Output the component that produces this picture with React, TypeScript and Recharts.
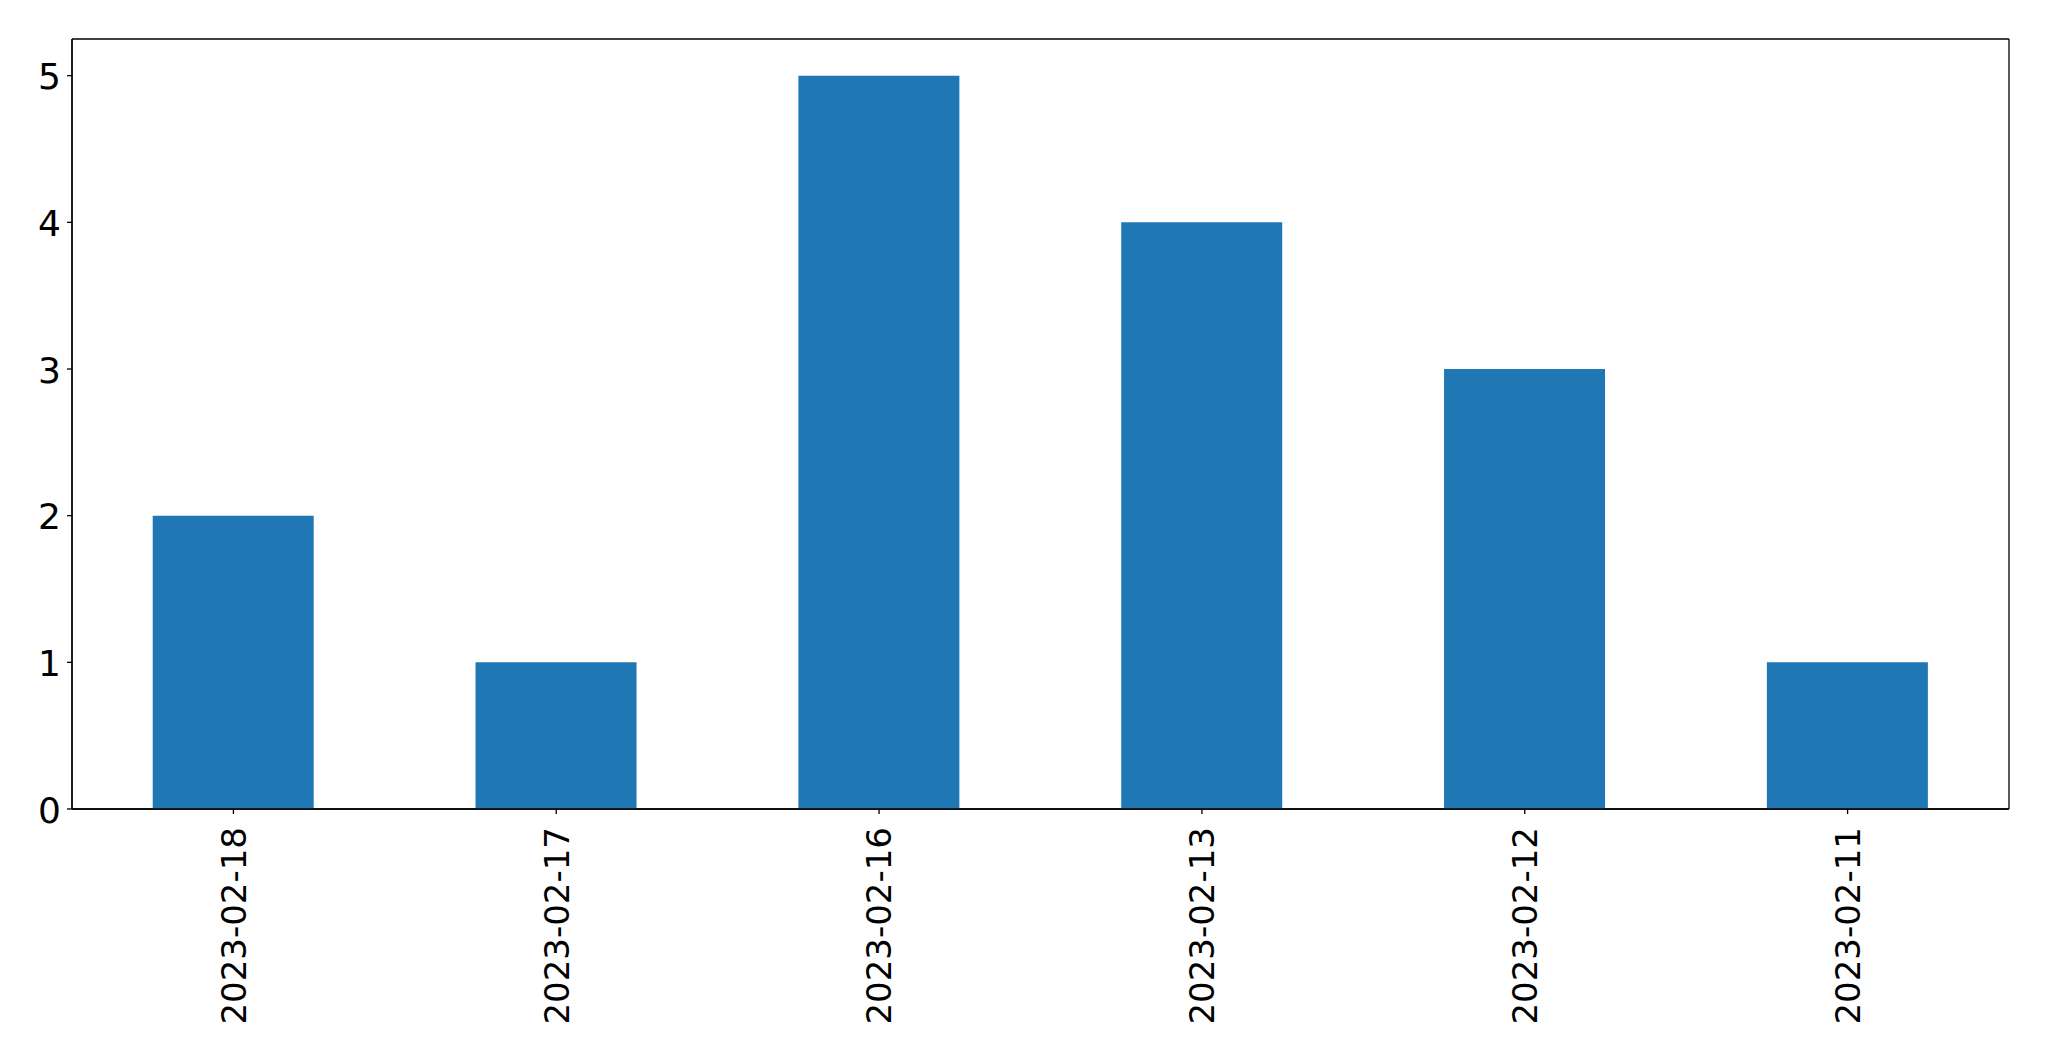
import React from "react";
import { BarChart, Bar, XAxis, YAxis, CartesianGrid } from "recharts";

const categories = ["2023-02-18", "2023-02-17", "2023-02-16", "2023-02-13", "2023-02-12", "2023-02-11"];
const counts = [2, 1, 5, 4, 3, 1];
const yTicks = [0, 1, 2, 3, 4, 5];

const data = categories.map((c, i) => ({ date: c, count: counts[i] }));

const FONT = "'DejaVu Sans', sans-serif";

const XTick = (props: any) => {
  const { x, y, payload } = props;
  return (
    <text
      x={0}
      y={0}
      transform={`translate(${x},${y + 11}) rotate(-90)`}
      textAnchor="end"
      dy="0.36em"
      fontFamily={FONT}
      fontSize={34}
      fill="#000"
    >
      {payload.value}
    </text>
  );
};

const YTick = (props: any) => {
  const { x, y, payload } = props;
  return (
    <text x={x} y={y} textAnchor="end" dy="0.38em" fontFamily={FONT} fontSize={36} fill="#000">
      {payload.value}
    </text>
  );
};

const frameH = (p: any) => {
  const o = p.offset;
  return [o.top, o.top + o.height];
};
const frameV = (p: any) => {
  const o = p.offset;
  return [o.left, o.left + o.width];
};

export default function App() {
  return (
    <div style={{ position: "absolute", left: 0, top: 0, background: "#fff" }}>
      <BarChart
        width={2049}
        height={1061}
        data={data}
        margin={{ top: 39, right: 40, left: 0, bottom: 0 }}
        barCategoryGap="25%"
      >
        <CartesianGrid
          stroke="#000"
          strokeWidth={1.3}
          horizontalCoordinatesGenerator={frameH}
          verticalCoordinatesGenerator={frameV}
        />
        <XAxis
          dataKey="date"
          height={252}
          tick={<XTick />}
          tickSize={5}
          tickMargin={2}
          interval={0}
          axisLine={{ stroke: "#000", strokeWidth: 1.3 }}
          tickLine={{ stroke: "#000", strokeWidth: 1.3 }}
        />
        <YAxis
          width={72}
          domain={[0, 5.25]}
          ticks={yTicks}
          tick={<YTick />}
          tickSize={5}
          tickMargin={6}
          allowDataOverflow
          axisLine={{ stroke: "#000", strokeWidth: 1.3 }}
          tickLine={{ stroke: "#000", strokeWidth: 1.3 }}
        />
        <Bar dataKey="count" fill="#1f77b4" isAnimationActive={false} />
      </BarChart>
    </div>
  );
}
